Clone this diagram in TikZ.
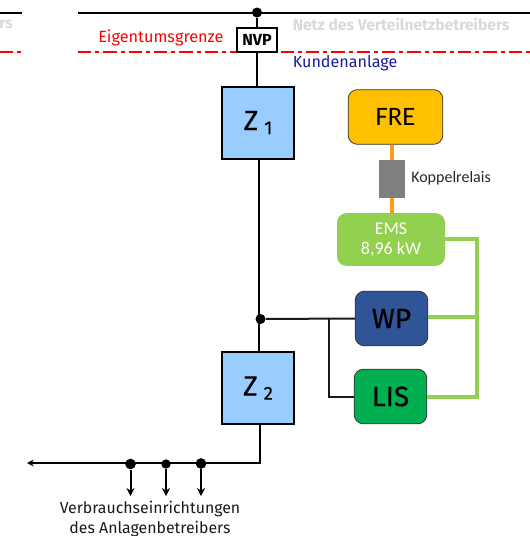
\documentclass[tikz,border=0pt]{standalone}
\usepackage{fontspec}
\setmainfont{Carlito}
\newfontfamily\din{Fira Sans}
\newfontfamily\dinm[FakeBold=0.5]{Fira Sans}
\usetikzlibrary{arrows.meta}
\definecolor{zblue}{HTML}{99CCFF}
\definecolor{fre}{HTML}{FFC000}
\definecolor{emsg}{HTML}{92D050}
\definecolor{wpb}{HTML}{2F5597}
\definecolor{lisg}{HTML}{00B050}
\definecolor{relay}{HTML}{7F7F7F}
\definecolor{orline}{HTML}{FF9A1A}
\definecolor{kunde}{HTML}{1C1CA0}
\definecolor{netz}{HTML}{D9D9D9}
\tikzset{
  wire/.style={line width=1.5pt,black},
  thinwire/.style={line width=1.5pt,black!90},
  greenwire/.style={line width=3pt,emsg},
  orwire/.style={line width=3pt,orline},
  meter/.style={draw=black,line width=1.5pt,fill=zblue,minimum width=53.5pt,minimum height=54pt,inner sep=0pt,font=\dinm\fontsize{21}{21}\selectfont},
  dev/.style={draw=black!80,line width=.6pt,rounded corners=7pt,inner sep=0pt,font=\dinm\fontsize{21}{21}\selectfont},
  junction/.style={circle,fill=black,inner sep=0pt,minimum size=7.5pt},
  redline/.style={red,line width=1.5pt,dash pattern=on 10pt off 3pt on 3pt off 3pt},
  consumer/.style={-{Stealth[length=6pt,width=6pt]},line width=1.5pt},
}
\begin{document}
\begin{tikzpicture}[x=0.75pt,y=-0.75pt]
\useasboundingbox (0,0) rectangle (530,536);
\clip (0,0) rectangle (530,536);
% top lines
\coordinate (tl0) at (0,12.5); \coordinate (tl1) at (22,12.5);
\coordinate (tr0) at (78,12.5); \coordinate (tr1) at (530,12.5);
\draw[wire] (tl0) -- (tl1);
\draw[wire] (tr0) -- (tr1);
\coordinate (rl0) at (0,52); \coordinate (rl1) at (22,52);
\coordinate (rr0) at (78,52); \coordinate (rr1) at (530,52);
\draw[redline] (rl0) -- (rl1);
\draw[redline] (rr0) -- (rr1);
% texts
\node[anchor=west,inner sep=0pt,text=netz,font=\din\bfseries\fontsize{11.7}{12}\selectfont] (nl) at (-1,24.5) {rs};
\node[anchor=west,inner sep=0pt,text=netz,font=\din\bfseries\fontsize{11.7}{12}\selectfont] (netztxt) at (292.5,24.5) {Netz des Verteilnetzbetreibers};
\node[anchor=west,inner sep=0pt,text=red,font=\din\fontsize{12.2}{12}\selectfont] (eg) at (98,38) {Eigentumsgrenze};
\node[anchor=west,inner sep=0pt,text=kunde,font=\din\fontsize{12.1}{12}\selectfont] (ka) at (292.5,63.5) {Kundenanlage};
% nodes
\node[junction] (topdot) at (257,12.5) {};
\node[draw=black,line width=1.3pt,fill=white,minimum width=29.5pt,minimum height=18.5pt,inner sep=0pt,font=\din\bfseries\fontsize{12}{12}\selectfont] (nvp) at (257,40) {NVP};
\node[meter] (z1) at (258,122.5) {Z\hspace{4.5pt}\raisebox{-3pt}{\fontsize{14}{14}\selectfont 1}};
\node[meter] (z2) at (258,388) {Z\hspace{4.5pt}\raisebox{-3pt}{\fontsize{14}{14}\selectfont 2}};
\node[dev,fill=fre,minimum width=71pt,minimum height=41pt,font=\fontsize{20}{20}\selectfont] (fre) at (395.5,117) {FRE};
\node[fill=relay,minimum width=19pt,minimum height=28.5pt,inner sep=0pt] (relais) at (392,179) {};
\node[anchor=west,inner sep=0pt,font=\fontsize{12}{12}\selectfont,text=black!85] (krtxt) at (411,178.5) {Koppelrelais};
\node[fill=emsg,rounded corners=7pt,minimum width=81pt,minimum height=39.5pt,inner sep=0pt,align=center,text=white,font=\fontsize{13.5}{15}\selectfont] (ems) at (391,239.5) {EMS\\8,96 kW};
\node[dev,fill=wpb,minimum width=54.5pt,minimum height=41pt] (wp) at (391.5,318.5) {WP};
\node[dev,fill=lisg,minimum width=54.5pt,minimum height=41pt] (lis) at (390.5,396.5) {LIS};
\node[junction] (mid) at (260.5,319) {};
% connectors
\draw[wire] (topdot) -- (nvp.north -| topdot);
\draw[wire] (nvp.south) -- (nvp.south |- z1.north);
\coordinate (z1b) at (259,159);
\coordinate (z2t) at (259,352);
\draw[wire] (z1b) -- (z2t);
\draw[thinwire] (mid) -- (wp.west);
\coordinate (br) at (328.5,319);
\coordinate (bc) at (328.5,397);
\draw[thinwire] (br) -- (bc) -- (lis.west |- bc);
\draw[orwire] (fre.south -| relais) -- (relais.north);
\draw[orwire] (relais.south) -- (relais.south |- ems.north);
\coordinate (gtop) at (477,238.5);
\coordinate (gbot) at (477,396.5);
\coordinate (gmid) at (477,317);
\draw[greenwire] (ems.east |- gtop) -- (gtop) -- (gbot) -- (lis.east |- gbot);
\draw[greenwire] (wp.east |- gmid) -- (gmid);
% bottom bus
\coordinate (z2b) at (260,424);
\coordinate (bc2) at (260,463);
\coordinate (be) at (27,463);
\draw[wire,-{Stealth[length=5pt,width=5pt]}] (z2b) -- (bc2) -- (be);
\node[junction,minimum size=8pt] (d1) at (130.5,464) {};
\node[junction,minimum size=7pt] (d2) at (166,464) {};
\node[junction,minimum size=8pt] (d3) at (201,463.5) {};
\coordinate (a1) at (130.5,496); \coordinate (a2) at (166,496); \coordinate (a3) at (201,496);
\draw[consumer] (d1) -- (a1);
\draw[consumer] (d2) -- (a2);
\draw[consumer] (d3) -- (a3);
\node[inner sep=0pt,align=center,font=\din\fontsize{11.9}{14.7}\selectfont,text=black!90] (vb) at (150,519) {Verbrauchseinrichtungen\\des Anlagenbetreibers};
\end{tikzpicture}
\end{document}
